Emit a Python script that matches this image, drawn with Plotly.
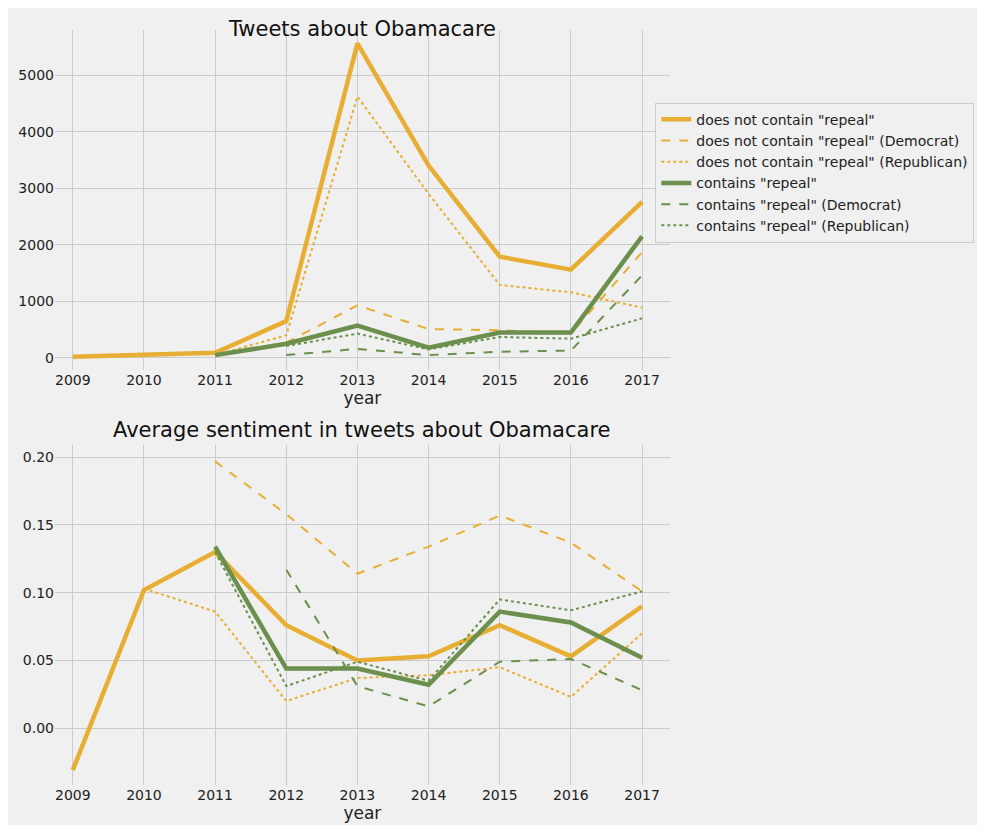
import plotly.graph_objects as go

years = [2009, 2010, 2011, 2012, 2013, 2014, 2015, 2016, 2017]

# counts (top panel)
cnt_no = [20, 50, 90, 650, 5560, 3400, 1790, 1560, 2760]
cnt_no_dem = [None, None, 50, 270, 930, 510, 490, 430, 1870]
cnt_no_rep = [None, None, 50, 400, 4620, 2900, 1290, 1160, 890]
cnt_rep = [None, None, 50, 250, 570, 180, 450, 450, 2150]
cnt_rep_dem = [None, None, None, 50, 160, 50, 110, 130, 1460]
cnt_rep_rep = [None, None, None, 210, 430, 150, 370, 340, 700]

# sentiment (bottom panel)
sent_no = [-0.031, 0.102, 0.130, 0.076, 0.050, 0.053, 0.076, 0.053, 0.090]
sent_no_dem = [None, None, 0.197, 0.158, 0.114, 0.134, 0.157, 0.137, 0.101]
sent_no_rep = [None, 0.103, 0.086, 0.020, 0.037, 0.039, 0.045, 0.023, 0.070]
sent_rep = [None, None, 0.134, 0.044, 0.044, 0.032, 0.086, 0.078, 0.052]
sent_rep_dem = [None, None, None, 0.117, 0.031, 0.016, 0.049, 0.051, 0.028]
sent_rep_rep = [None, None, 0.130, 0.031, 0.049, 0.035, 0.095, 0.087, 0.101]

ORANGE = "#e8ae33"
GREEN = "#6b8f4c"

names = ['does not contain "repeal"', 'does not contain "repeal" (Democrat)',
         'does not contain "repeal" (Republican)', 'contains "repeal"',
         'contains "repeal" (Democrat)', 'contains "repeal" (Republican)']
styles = [(ORANGE, 4.5, "solid"), (ORANGE, 2, "dash"), (ORANGE, 2, "dot"),
          (GREEN, 4.5, "solid"), (GREEN, 2, "dash"), (GREEN, 2, "dot")]

fig = go.Figure()
top = [cnt_no, cnt_no_dem, cnt_no_rep, cnt_rep, cnt_rep_dem, cnt_rep_rep]
bot = [sent_no, sent_no_dem, sent_no_rep, sent_rep, sent_rep_dem, sent_rep_rep]
for i in range(6):
    c, w, d = styles[i]
    fig.add_trace(go.Scatter(x=years, y=top[i], mode="lines", name=names[i],
                             line=dict(color=c, width=w, dash=d),
                             xaxis="x", yaxis="y"))
for i in range(6):
    c, w, d = styles[i]
    fig.add_trace(go.Scatter(x=years, y=bot[i], mode="lines", showlegend=False,
                             line=dict(color=c, width=w, dash=d),
                             xaxis="x2", yaxis="y2"))

ax = dict(showgrid=True, gridcolor="#cbcbcb", gridwidth=1, zeroline=False,
          showline=False, ticks="", tickfont=dict(size=14, color="#222"))
fig.update_layout(
    width=969, height=817, margin=dict(l=0, r=0, t=0, b=0),
    paper_bgcolor="#f0f0f0", plot_bgcolor="#f0f0f0",
    font=dict(family="DejaVu Sans", color="#222"),
    xaxis=dict(ax, domain=[0.0485, 0.683], range=[2008.75, 2017.39], dtick=1,
               anchor="y", title=dict(text="year", font=dict(size=17), standoff=5)),
    yaxis=dict(ax, domain=[0.557, 0.973], range=[-212, 5795], dtick=1000, anchor="x"),
    xaxis2=dict(ax, domain=[0.0485, 0.683], range=[2008.75, 2017.39], dtick=1,
                anchor="y2", title=dict(text="year", font=dict(size=17), standoff=5)),
    yaxis2=dict(ax, domain=[0.049, 0.465], range=[-0.042, 0.209], dtick=0.05,
                tickformat=".2f", anchor="x2"),
    legend=dict(x=0.668, y=0.884, xanchor="left", yanchor="top",
                bgcolor="#f0f0f0", bordercolor="#cccccc", borderwidth=1,
                font=dict(size=14), tracegroupgap=0),
    annotations=[
        dict(text="Tweets about Obamacare", x=0.365, y=0.991, xref="paper", yref="paper",
             showarrow=False, font=dict(size=21, color="#111")),
        dict(text="Average sentiment in tweets about Obamacare", x=0.365, y=0.483,
             xref="paper", yref="paper", showarrow=False, font=dict(size=21, color="#111")),
    ],
)
fig.write_html("out.html")
